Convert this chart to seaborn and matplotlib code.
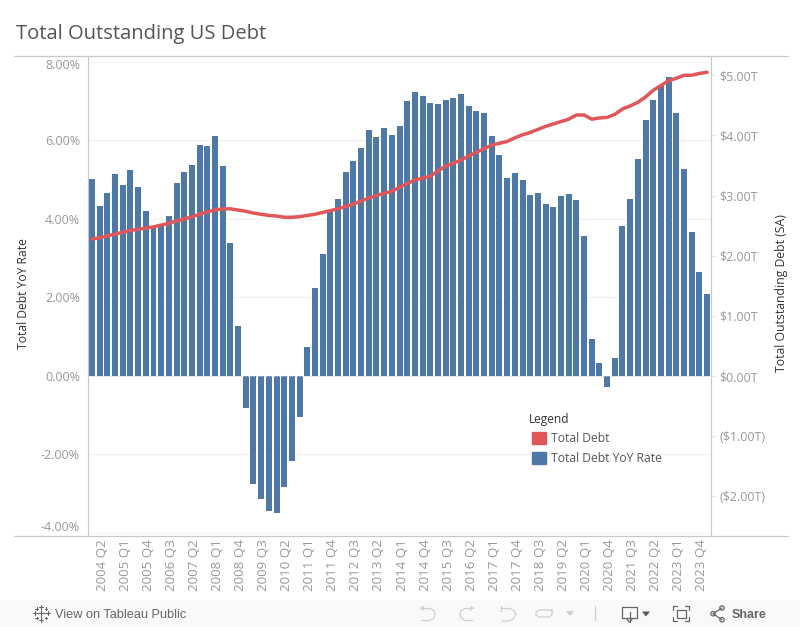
import matplotlib
matplotlib.use("Agg")
import matplotlib.pyplot as plt
from matplotlib.lines import Line2D
from matplotlib.patches import Ellipse, Patch, Rectangle
from matplotlib.transforms import ScaledTranslation
import pandas as pd
import seaborn as sns

W, H = 800, 627

quarters = [f"{y} Q{q}" for y in range(2004, 2024) for q in range(1, 5)] + ["2024 Q1"]

yoy_rate = [
    5.01, 4.33, 4.66, 5.14, 4.86, 5.24, 4.81, 4.20, 3.77, 3.85,
    4.07, 4.91, 5.19, 5.37, 5.88, 5.85, 6.11, 5.34, 3.38, 1.27,
    -0.81, -2.75, -3.13, -3.43, -3.49, -2.82, -2.16, -1.04, 0.74, 2.24,
    3.10, 4.20, 4.50, 5.19, 5.47, 5.80, 6.26, 6.08, 6.31, 6.13,
    6.36, 7.00, 7.23, 7.12, 6.95, 6.92, 7.02, 7.07, 7.18, 6.87,
    6.74, 6.69, 6.11, 5.62, 5.04, 5.17, 4.99, 4.61, 4.66, 4.38,
    4.30, 4.58, 4.63, 4.48, 3.56, 0.94, 0.33, -0.28, 0.46, 3.82,
    4.50, 5.52, 6.51, 7.02, 7.40, 7.61, 6.69, 5.27, 3.66, 2.65,
    2.09,
]

total_debt = [
    2.28, 2.30, 2.33, 2.36, 2.39, 2.42, 2.44, 2.46, 2.48, 2.51,
    2.54, 2.58, 2.61, 2.65, 2.69, 2.73, 2.76, 2.78, 2.78, 2.76,
    2.74, 2.71, 2.69, 2.67, 2.66, 2.64, 2.64, 2.65, 2.67, 2.69,
    2.72, 2.75, 2.78, 2.82, 2.86, 2.91, 2.96, 3.00, 3.04, 3.07,
    3.14, 3.20, 3.26, 3.29, 3.32, 3.41, 3.49, 3.54, 3.59, 3.66,
    3.72, 3.78, 3.84, 3.87, 3.90, 3.96, 4.01, 4.05, 4.10, 4.15,
    4.19, 4.23, 4.27, 4.34, 4.34, 4.27, 4.29, 4.30, 4.35, 4.44,
    4.49, 4.55, 4.64, 4.75, 4.83, 4.91, 4.95, 5.00, 5.00, 5.03,
    5.05,
]

pct_ticks = [-4, -2, 0, 2, 4, 6, 8]
debt_ticks = [-2, -1, 0, 1, 2, 3, 4, 5]

BLUE = "#4e79a7"
RED = "#e15759"
GREY = "#999999"
RULE = "#c8c8c8"
ICON = "#cfcfcf"
ICON_DARK = "#666666"


def stroke(xs, ys, color=ICON, lw=0.9):
    # toolbar and frame lines, given in image pixels
    fig.add_artist(Line2D([x / W for x in xs], [1 - y / H for y in ys], color=color, lw=lw))


def plus(x, y, size, color="#666666"):
    stroke([x - size, x + size], [y, y], color, 0.8)
    stroke([x, x], [y - size, y + size], color, 0.8)


def triangle(x, y, color):
    fig.add_artist(plt.Polygon([[(x - 4) / W, 1 - (y - 2) / H], [(x + 4) / W, 1 - (y - 2) / H], [x / W, 1 - (y + 3) / H]],
                               closed=True, transform=fig.transFigure, color=color, lw=0))


sns.set_theme(style="white")
plt.rcParams["font.family"] = ["Open Sans", "DejaVu Sans"]

df = pd.DataFrame({"quarter": quarters, "rate": yoy_rate, "debt": total_debt, "pos": range(len(quarters))})

fig = plt.figure(figsize=(W / 100, H / 100), dpi=100)
# axes placed in pixels so the frame lines up with the dashboard
left, right, top, bottom = 88.3, 711.3, 56, 535
ax = fig.add_axes([left / W, 1 - bottom / H, (right - left) / W, (bottom - top) / H])

sns.barplot(data=df, x="quarter", y="rate", color=BLUE, saturation=1, width=0.78, linewidth=0, ax=ax)
ax.set_xlim(-0.48, 80.55)
ax.set_ylim(-4.05, 8.14)
ax.set_yticks(pct_ticks)
ax.set_yticklabels([f"{t:.2f}%" for t in pct_ticks])
ax.set_xticks(range(1, 81, 3))
ax.set_xticklabels(quarters[1:81:3], rotation=90)
ax.grid(axis="y", color="#f0f0f0", lw=0.8)
ax.set_axisbelow(True)
ax.axhline(0, color="#d8d8d8", lw=0.7, ls=":", zorder=5)
ax.tick_params(axis="x", length=0, pad=3, labelsize=9.6, labelcolor=GREY)
ax.tick_params(axis="y", length=0, pad=6, labelsize=9, labelcolor=GREY)
ax.set_xlabel("")
ax.set_ylabel("Total Debt YoY Rate", fontsize=8.7, color="#333333")
ax.yaxis.set_label_coords(-0.093, 0.505)

# first and last labels sit inside the frame
for lab, dy in zip(ax.get_yticklabels(), [7, 0, 0, 0, 0, 0, -2]):
    lab.set_transform(lab.get_transform() + ScaledTranslation(0, dy / 100, fig.dpi_scale_trans))
for lab in ax.get_xticklabels():
    lab.set_transform(lab.get_transform() + ScaledTranslation(2.5 / 100, 0, fig.dpi_scale_trans))

ax2 = ax.twinx()
sns.lineplot(data=df, x="pos", y="debt", color=RED, lw=2.5, ax=ax2, zorder=6)
ax2.set_ylim(-2.64, 5.32)
ax2.set_yticks(debt_ticks)
ax2.set_yticklabels([f"${t:.2f}T" if t >= 0 else f"(${-t:.2f}T)" for t in debt_ticks])
ax2.tick_params(axis="y", length=3, width=0.8, color="#e6e6e6", pad=3, labelsize=9, labelcolor=GREY, right=True)
ax2.set_ylabel("Total Outstanding Debt (SA)", fontsize=8.8, color="#333333")
ax2.yaxis.set_label_coords(1.103, 0.505)

for name, spine in ax.spines.items():
    spine.set_visible(name in ("left", "right"))
    spine.set_color(RULE)
    spine.set_linewidth(0.8)
for spine in ax2.spines.values():
    spine.set_visible(False)

# frame rules run past the axes
stroke([14, 788], [55.5, 55.5], RULE)
stroke([14, 788], [535.5, 535.5], RULE)

fig.text(16 / W, 1 - 34.5 / H, "Total Outstanding US Debt", fontsize=14.5, color="#555555", va="center")

fig.text(529 / W, 1 - 419 / H, "Legend", fontsize=8.6, color="#333333", va="center")
handles = [Patch(color=RED, label="Total Debt"), Patch(color=BLUE, label="Total Debt YoY Rate")]
leg = ax2.legend(handles=handles, frameon=False, loc="upper left",
                 bbox_to_anchor=(532 / W, 1 - 432 / H), bbox_transform=fig.transFigure,
                 fontsize=8.7, handlelength=1.17, handleheight=1.17, handletextpad=0.42,
                 labelspacing=0.55, borderpad=0, borderaxespad=0)
for t in leg.get_texts():
    t.set_color("#555555")

# toolbar strip along the bottom
fig.add_artist(Rectangle((0, 0), 1, 27 / H, transform=fig.transFigure, color="#f9f9f9", lw=0))
fig.text(55 / W, 1 - 615 / H, "View on Tableau Public", fontsize=9.2, color="#666666", va="center",
         family=["Liberation Sans", "DejaVu Sans"])
fig.text(732 / W, 1 - 615 / H, "Share", fontsize=9, color="#666666", va="center", fontweight="bold",
         family=["Liberation Sans", "DejaVu Sans"])

# tableau logo
plus(41.3, 613.3, 3.5)
for x, y in [(41.3, 606.5), (41.3, 620), (34.5, 613.3), (48, 613.3)]:
    plus(x, y, 2)
for x, y in [(36.5, 608.5), (46, 608.5), (36.5, 618), (46, 618)]:
    plus(x, y, 1.2)

# undo, redo, revert, refresh
stroke([421, 430, 434, 435, 434, 430, 422], [608.5, 608.5, 610.5, 614, 618, 620.5, 620.5])
stroke([420.5, 423, 423], [608.5, 606.5, 610.5])
stroke([473, 465, 461, 460, 461, 465, 473], [608.5, 608.5, 610.5, 614, 618, 620.5, 620.5])
stroke([473.5, 471, 471], [608.5, 606.5, 610.5])
stroke([501, 510, 514, 516, 514, 510, 502], [608.5, 608.5, 610.5, 614, 618, 621, 621])
stroke([500.5, 500.5], [606, 611])
stroke([552, 539, 536, 536, 539, 549, 552, 552], [610, 610, 612, 615, 617, 617, 615, 610])
triangle(570, 613, ICON)
stroke([595, 595], [606, 620])

# download
stroke([622, 637, 637, 622, 622], [606.5, 606.5, 618, 618, 606.5], ICON_DARK)
stroke([629.5, 629.5], [612, 622], ICON_DARK)
stroke([627, 629.5, 632], [619.5, 622, 619.5], ICON_DARK)
triangle(646, 613.5, "#555555")

# fullscreen
stroke([673, 673, 677], [610, 606, 606], ICON_DARK)
stroke([685, 689, 689], [606, 606, 610], ICON_DARK)
stroke([673, 673, 677], [617, 621, 621], ICON_DARK)
stroke([685, 689, 689], [621, 621, 617], ICON_DARK)
stroke([677, 686, 686, 677, 677], [610, 610, 618, 618, 610], ICON_DARK)

# share
stroke([722, 713, 722], [608, 613.7, 619.7], ICON_DARK)
for x, y in [(713, 613.7), (722, 608), (722, 619.7)]:
    fig.add_artist(Ellipse((x / W, 1 - y / H), 4.4 / W, 4.4 / H, transform=fig.transFigure,
                           facecolor="#f9f9f9", edgecolor=ICON_DARK, lw=0.9))

fig.savefig("out.png", dpi=100)
